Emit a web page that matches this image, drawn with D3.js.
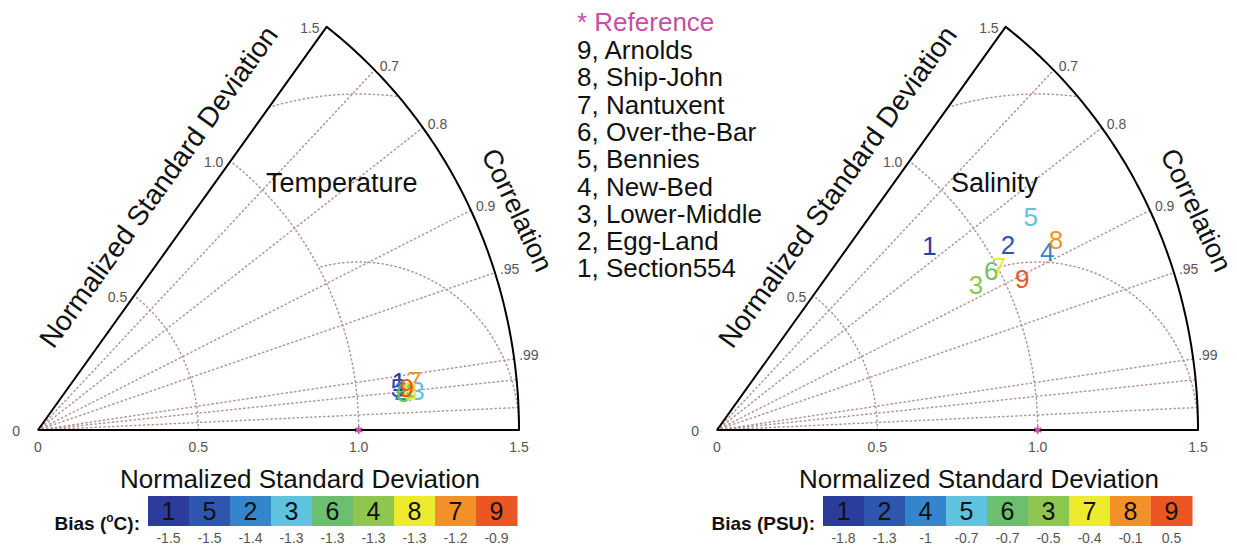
<!DOCTYPE html>
<html><head><meta charset="utf-8">
<script src="https://cdn.jsdelivr.net/npm/d3@7"></script>
<style>
body{margin:0;background:#fff}
svg{display:block}
text{font-family:"Liberation Sans",Arial,Helvetica,sans-serif}
</style>
</head><body>
<svg id="chart" width="1237" height="550"></svg>
<script>
// ---------- data ----------
const stations = ["1","2","3","4","5","6","7","8","9"];
const stationNames = ["Section554","Egg-Land","Lower-Middle","New-Bed","Bennies","Over-the-Bar","Nantuxent","Ship-John","Arnolds"];

// Temperature: normalized std and correlation per station (1..9)
const tempStd  = [1.134, 1.139, 1.189, 1.156, 1.129, 1.144, 1.184, 1.167, 1.157];
const tempCorr = [0.9919, 0.9948, 0.9952, 0.9951, 0.9937, 0.9952, 0.9923, 0.9950, 0.9941];

// Salinity
const salStd  = [0.861, 1.063, 0.917, 1.158, 1.166, 0.977, 1.005, 1.200, 1.053];
const salCorr = [0.770, 0.854, 0.881, 0.889, 0.839, 0.875, 0.875, 0.881, 0.904];

// Bias colour bars (stations ordered by bias)
const tempBiasOrder  = ["1","5","2","3","6","4","8","7","9"];
const tempBiasValues = ["-1.5","-1.5","-1.4","-1.3","-1.3","-1.3","-1.3","-1.2","-0.9"];
const salBiasOrder   = ["1","2","4","5","6","3","7","8","9"];
const salBiasValues  = ["-1.8","-1.3","-1","-0.7","-0.7","-0.5","-0.4","-0.1","0.5"];
const biasColors = ["#2b3c9c","#2e56ae","#3486cc","#5ec4de","#6dbf70","#8ec650","#eeea2e","#f29129","#ec5623"];

// Axes / grid
const corrTicks      = [0.7, 0.8, 0.9, 0.95, 0.99];
const corrTickLabels = ["0.7","0.8","0.9",".95",".99"];
const corrExtraRays  = [0.995, 0.999];
const stdTicks       = [0, 0.5, 1.0, 1.5];
const stdTickLabels  = ["0","0.5","1.0","1.5"];
const stdArcs        = [0.5, 1.0];
const rmsArcs        = [0.5, 1.0];
const corrMin = 0.6, stdMax = 1.5;

// ---------- drawing ----------
const svg = d3.select("#chart");
const gridColor = "#b39393";
const thetaMax = Math.acos(corrMin);

function panel(ox, title, titleDx, std, corr, order, biasVals, biasLabel, biasLabelSup, cbLeft) {
  const g = svg.append("g");
  const oy = 430;
  const x = d3.scaleLinear().domain([0, stdMax]).range([ox, ox + 481]);
  const y = d3.scaleLinear().domain([0, stdMax]).range([oy, oy - 504]);
  const P = (s, th) => [x(s * Math.cos(th)), y(s * Math.sin(th))];
  const line = d3.line().defined(d => d !== null);

  const dotted = sel => sel.attr("fill","none").attr("stroke",gridColor)
      .attr("stroke-width",1.5).attr("stroke-dasharray","1.2,3.2").attr("stroke-linecap","round");

  // correlation rays
  [...corrTicks, ...corrExtraRays].forEach(r => {
    const th = Math.acos(r);
    g.append("path").attr("d", line([P(0,th), P(stdMax,th)])).call(dotted);
  });
  // std arcs
  stdArcs.forEach(s => {
    const pts = d3.range(0, 101).map(i => P(s, thetaMax * i / 100));
    g.append("path").attr("d", line(pts)).call(dotted);
  });
  // centred RMS arcs about reference (1,0), outside the std=1 arc
  rmsArcs.forEach(R => {
    const pts = d3.range(0, 401).map(i => {
      const ph = Math.PI * i / 400;
      const px = 1 + R * Math.cos(ph), py = R * Math.sin(ph);
      const s = Math.hypot(px, py), th = Math.atan2(py, px);
      if (s < 1 - 1e-6 || s > stdMax + 1e-6 || th > thetaMax) return null;
      return [x(px), y(py)];
    });
    g.append("path").attr("d", line(pts)).call(dotted);
  });

  // frame
  const outer = d3.range(0, 101).map(i => P(stdMax, thetaMax * i / 100));
  g.append("path")
    .attr("d", line([P(0,0), ...outer, P(0,0)]))
    .attr("fill","none").attr("stroke","#000").attr("stroke-width",2).attr("stroke-linejoin","round");

  // std tick labels (x axis)
  stdTicks.forEach((v, i) => {
    g.append("text").attr("x", x(v)).attr("y", oy + 22).attr("text-anchor","middle")
      .attr("font-size",14).attr("fill","#555").text(stdTickLabels[i]);
  });
  // std tick labels along the left edge
  stdTicks.forEach((v, i) => {
    const [px, py] = v === 0 ? [ox, oy] : P(v, thetaMax);
    g.append("text").attr("x", v === 0 ? px - 18 : px - 7).attr("y", py + 6)
      .attr("text-anchor","end").attr("font-size",14).attr("fill","#555").text(stdTickLabels[i]);
  });
  // correlation tick labels
  corrTicks.forEach((r, i) => {
    const [px, py] = P(stdMax, Math.acos(r));
    g.append("text").attr("x", px + 5).attr("y", py + 1).attr("text-anchor","start")
      .attr("font-size",14).attr("fill","#555").text(corrTickLabels[i]);
  });

  // axis titles
  g.append("text").attr("x", ox + 262).attr("y", 488).attr("text-anchor","middle")
    .attr("font-size",26).attr("fill","#111").text("Normalized Standard Deviation");
  {
    const ang = Math.atan2(y(0) - y(stdMax*Math.sin(thetaMax)), x(stdMax*Math.cos(thetaMax)) - x(0));
    const L = 268, d = 34;
    const ux = Math.cos(ang), uy = -Math.sin(ang);
    const nx = -Math.sin(ang), ny = -Math.cos(ang);
    const tx = ox + ux * L + nx * d, ty = oy + uy * L + ny * d;
    g.append("text").attr("transform", `translate(${tx},${ty}) rotate(${-ang*180/Math.PI})`)
      .attr("text-anchor","middle").attr("font-size",28).attr("fill","#111").text("Normalized Standard Deviation");
  }
  g.append("text").attr("transform", `translate(${ox + 471},${214}) rotate(65)`)
    .attr("text-anchor","middle").attr("font-size",27).attr("fill","#111").text("Correlation");

  // panel title
  g.append("text").attr("x", ox + titleDx).attr("y", 192).attr("text-anchor","start")
    .attr("font-size",27).attr("fill","#111").text(title);

  // reference marker
  g.append("path").attr("d", d3.symbol().type(d3.symbolAsterisk).size(45)())
    .attr("transform", `translate(${x(1)},${y(0)})`).attr("stroke","#c54ea6").attr("stroke-width",1.8).attr("fill","none");

  // station points (drawn as their numbers)
  stations.forEach((st, i) => {
    const [px, py] = P(std[i], Math.acos(corr[i]));
    const col = biasColors[order.indexOf(st)];
    g.append("text").attr("x", px).attr("y", py).attr("dy","0.36em").attr("text-anchor","middle")
      .attr("font-size",26).attr("fill",col).text(st);
  });

  // colour bar
  const cb = d3.scaleBand().domain(d3.range(order.length)).range([cbLeft, cbLeft + 369]).paddingInner(0);
  order.forEach((st, i) => {
    g.append("rect").attr("x", cb(i)).attr("y", 496).attr("width", cb.bandwidth() + 0.5).attr("height", 30)
      .attr("fill", biasColors[i]);
    g.append("text").attr("x", cb(i) + cb.bandwidth()/2).attr("y", 520).attr("text-anchor","middle")
      .attr("font-size",25).attr("fill","#111").text(st);
    g.append("text").attr("x", cb(i) + cb.bandwidth()/2).attr("y", 543).attr("text-anchor","middle")
      .attr("font-size",14).attr("fill","#555").text(biasVals[i]);
  });
  const bl = g.append("text").attr("x", cbLeft - 8).attr("y", 530).attr("text-anchor","end")
    .attr("font-size",19).attr("font-weight","bold").attr("fill","#111");
  bl.append("tspan").text(biasLabel);
  if (biasLabelSup) {
    bl.append("tspan").attr("dy",-8).attr("font-size",12).text(biasLabelSup);
    bl.append("tspan").attr("dy",8).text("C):");
  }
}

panel(38, "Temperature", 228, tempStd, tempCorr, tempBiasOrder, tempBiasValues, "Bias (", "o", 148);
panel(717, "Salinity", 234, salStd, salCorr, salBiasOrder, salBiasValues, "Bias (PSU):", null, 823);

// legend
const legend = svg.append("g");
legend.append("text").attr("x", 577).attr("y", 31).attr("font-size",26).attr("fill","#c54ea6").text("* Reference");
stations.slice().reverse().forEach((st, i) => {
  legend.append("text").attr("x", 577).attr("y", 59 + i * 27.3).attr("font-size",26).attr("fill","#111")
    .text(st + ", " + stationNames[+st - 1]);
});
</script>
</body></html>
